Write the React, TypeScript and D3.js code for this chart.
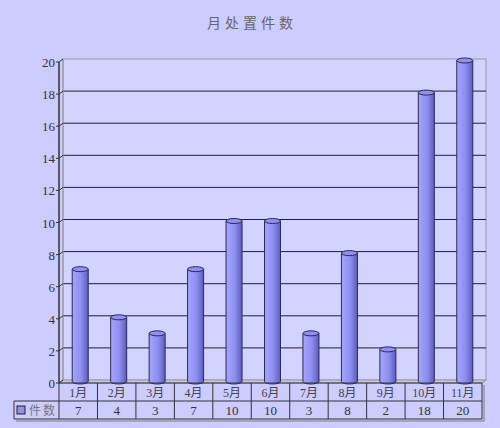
import * as d3 from "d3";
import { useEffect, useRef } from "react";

const title = "月处置件数";
const months = ["1月", "2月", "3月", "4月", "5月", "6月", "7月", "8月", "9月", "10月", "11月"];
const counts = [7, 4, 3, 7, 10, 10, 3, 8, 2, 18, 20];
const seriesName = "件数";
const yTicks = [0, 2, 4, 6, 8, 10, 12, 14, 16, 18, 20];

export default function App() {
  const ref = useRef<SVGSVGElement>(null);

  useEffect(() => {
    if (!ref.current) return;
    const W = 500;
    const H = 428;
    const left = 59;
    const right = 482;
    const dx = 4;
    const dy = -3;
    const font = "'Liberation Serif', 'Noto Sans CJK SC', serif";

    const x = d3.scaleBand<string>().domain(months).range([left, right]);
    const y = d3.scaleLinear().domain([0, 20]).range([383, 62]);

    const svg = d3.select(ref.current);
    svg.selectAll("*").remove();
    svg.attr("viewBox", `0 0 ${W} ${H}`);

    svg.append("rect").attr("width", W).attr("height", H).attr("fill", "#ccccff");

    const defs = svg.append("defs");
    const grad = defs.append("linearGradient").attr("id", "cyl").attr("x1", "0").attr("x2", "1");
    grad.append("stop").attr("offset", "0%").attr("stop-color", "#a4a4ff");
    grad.append("stop").attr("offset", "55%").attr("stop-color", "#8e8ef2");
    grad.append("stop").attr("offset", "100%").attr("stop-color", "#5c5cb8");

    // title
    svg.append("text")
      .attr("x", 252).attr("y", 28)
      .attr("text-anchor", "middle")
      .attr("font-family", font)
      .attr("font-size", 14)
      .attr("letter-spacing", 4)
      .attr("fill", "#666")
      .text(title);

    const y0 = y(0);
    const yTop = y(20);

    // back wall
    svg.append("rect")
      .attr("x", left + dx).attr("y", yTop + dy)
      .attr("width", right - left).attr("height", y0 - yTop)
      .attr("fill", "#d3d3ff").attr("stroke", "#9a9a9a");
    // floor
    svg.append("path")
      .attr("d", `M${left},${y0}L${left + dx},${y0 + dy}L${right + dx},${y0 + dy}L${right},${y0}Z`)
      .attr("fill", "#c4c4ee").attr("stroke", "#9a9a9a");

    // grid lines on back wall
    svg.append("g").selectAll("line")
      .data(yTicks.filter((v) => v > 0 && v < 20))
      .join("line")
      .attr("x1", left + dx).attr("x2", right + dx)
      .attr("y1", (d) => y(d) + dy).attr("y2", (d) => y(d) + dy)
      .attr("stroke", "#222").attr("stroke-width", 1);

    // side wall edges
    svg.append("line")
      .attr("x1", left + dx).attr("x2", left + dx)
      .attr("y1", yTop + dy).attr("y2", y0 + dy)
      .attr("stroke", "#9a9a9a");
    svg.append("path")
      .attr("d", `M${right},${y0}L${right + dx},${y0 + dy}`)
      .attr("stroke", "#9a9a9a").attr("fill", "none");

    // axis
    svg.append("line")
      .attr("x1", left).attr("x2", left)
      .attr("y1", yTop).attr("y2", y0)
      .attr("stroke", "#333").attr("stroke-width", 1.5);
    const ticks = svg.append("g").selectAll("g").data(yTicks).join("g");
    ticks.append("path")
      .attr("d", (d) => `M${left - 3},${y(d)}L${left},${y(d)}L${left + dx},${y(d) + dy}`)
      .attr("stroke", "#333").attr("fill", "none");
    ticks.append("text")
      .attr("x", left - 4).attr("y", (d) => y(d) + 5)
      .attr("text-anchor", "end")
      .attr("font-family", font)
      .attr("font-size", 13)
      .attr("fill", "#333")
      .text((d) => d);

    // cylinders
    const bw = 16;
    const ry = 2.5;
    const bars = svg.append("g").selectAll("g")
      .data(months.map((m, i) => ({ m, v: counts[i] })))
      .join("g");
    const cx = (d: { m: string }) => (x(d.m) ?? 0) + x.bandwidth() / 2 + 2;
    const by = y0 - 1.5;
    bars.append("path")
      .attr("d", (d) => {
        const c = cx(d);
        const t = y(d.v) - 1.5;
        return `M${c - bw / 2},${t}L${c - bw / 2},${by}A${bw / 2},${ry} 0 0 0 ${c + bw / 2},${by}L${c + bw / 2},${t}Z`;
      })
      .attr("fill", "url(#cyl)")
      .attr("stroke", "#2a2a5a").attr("stroke-width", 1);
    bars.append("ellipse")
      .attr("cx", cx).attr("cy", (d) => y(d.v) - 1.5)
      .attr("rx", bw / 2).attr("ry", ry)
      .attr("fill", "#9090ee")
      .attr("stroke", "#2a2a5a").attr("stroke-width", 1);

    // data table
    const r0 = 383;
    const r1 = 401;
    const r2 = 419;
    const tLeft = 14;
    const tg = svg.append("g");
    // shadow
    tg.append("path")
      .attr("d", `M${right + 2},${r0 + 2}L${right + 2},${r2 + 2}L${tLeft + 2},${r2 + 2}`)
      .attr("stroke", "#999").attr("stroke-width", 1.5).attr("fill", "none");
    tg.append("path")
      .attr("d", `M${left},${r0}L${right},${r0}L${right},${r2}L${tLeft},${r2}L${tLeft},${r1}L${right},${r1}`)
      .attr("stroke", "#333").attr("fill", "none");
    tg.selectAll("line.col")
      .data(months)
      .join("line")
      .attr("class", "col")
      .attr("x1", (d) => x(d) ?? 0).attr("x2", (d) => x(d) ?? 0)
      .attr("y1", r0).attr("y2", r2)
      .attr("stroke", "#333");
    tg.selectAll("text.cat")
      .data(months)
      .join("text")
      .attr("class", "cat")
      .attr("x", (d) => (x(d) ?? 0) + x.bandwidth() / 2)
      .attr("y", r0 + 14)
      .attr("text-anchor", "middle")
      .attr("font-family", font)
      .attr("font-size", 12)
      .attr("fill", "#444")
      .text((d) => d);
    tg.selectAll("text.val")
      .data(counts)
      .join("text")
      .attr("class", "val")
      .attr("x", (_, i) => (x(months[i]) ?? 0) + x.bandwidth() / 2)
      .attr("y", r1 + 14)
      .attr("text-anchor", "middle")
      .attr("font-family", font)
      .attr("font-size", 13)
      .attr("fill", "#333")
      .text((d) => d);
    // legend key
    tg.append("rect")
      .attr("x", 17).attr("y", 406).attr("width", 8).attr("height", 8)
      .attr("fill", "#9090ee").attr("stroke", "#222");
    tg.append("text")
      .attr("x", 29).attr("y", r1 + 14)
      .attr("font-family", font)
      .attr("font-size", 12)
      .attr("letter-spacing", 2)
      .attr("fill", "#777")
      .text(seriesName);
  }, []);

  return <svg ref={ref} width={500} height={428} style={{ position: "absolute", left: 0, top: 0 }} />;
}
